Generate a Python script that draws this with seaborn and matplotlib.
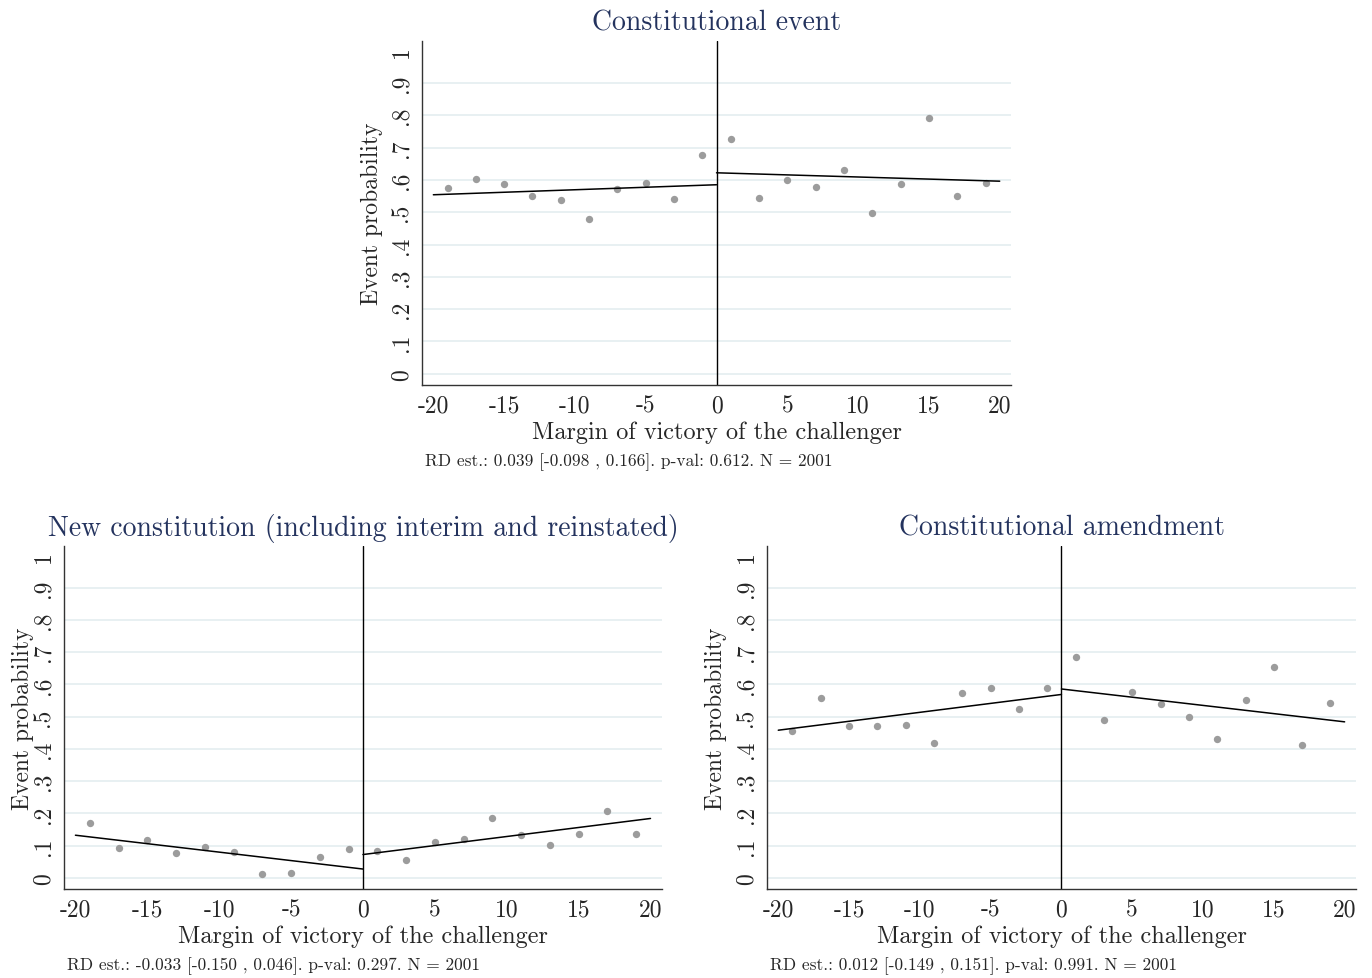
import matplotlib
matplotlib.use("Agg")
import matplotlib.pyplot as plt
import seaborn as sns

# bin centres of the margin of victory
bins = [-19, -17, -15, -13, -11, -9, -7, -5, -3, -1,
        1, 3, 5, 7, 9, 11, 13, 15, 17, 19]

# binned means
event_prob = [0.575, 0.603, 0.588, 0.549, 0.538, 0.478, 0.571, 0.590, 0.540, 0.678,
              0.728, 0.545, 0.599, 0.579, 0.630, 0.499, 0.586, 0.792, 0.551, 0.589]
newconst_prob = [0.169, 0.092, 0.117, 0.077, 0.094, 0.081, 0.011, 0.015, 0.065, 0.089,
                 0.083, 0.056, 0.111, 0.121, 0.184, 0.132, 0.103, 0.137, 0.206, 0.136]
amend_prob = [0.457, 0.557, 0.470, 0.470, 0.475, 0.419, 0.572, 0.589, 0.524, 0.588,
              0.686, 0.490, 0.576, 0.539, 0.499, 0.432, 0.551, 0.655, 0.412, 0.544]

# linear fits on each side of the cutoff
fit_left_x = [-20, 0]
fit_right_x = [0, 20]
event_fit_left = [0.554, 0.585]
event_fit_right = [0.622, 0.596]
newconst_fit_left = [0.132, 0.027]
newconst_fit_right = [0.072, 0.184]
amend_fit_left = [0.458, 0.569]
amend_fit_right = [0.586, 0.484]

titles = ["Constitutional event",
          "New constitution (including interim and reinstated)",
          "Constitutional amendment"]
notes = ["RD est.: 0.039 [-0.098 , 0.166]. p-val: 0.612. N = 2001",
         "RD est.: -0.033 [-0.150 , 0.046]. p-val: 0.297. N = 2001",
         "RD est.: 0.012 [-0.149 , 0.151]. p-val: 0.991. N = 2001"]

x_ticks = [-20, -15, -10, -5, 0, 5, 10, 15, 20]
x_ticklabels = ["-20", "-15", "-10", "-5", "0", "5", "10", "15", "20"]
y_ticks = [0, 0.1, 0.2, 0.3, 0.4, 0.5, 0.6, 0.7, 0.8, 0.9, 1]
y_ticklabels = ["0", ".1", ".2", ".3", ".4", ".5", ".6", ".7", ".8", ".9", "1"]

sns.set_style("white")
plt.rcParams["font.family"] = ["cmr10", "DejaVu Serif"]
plt.rcParams["axes.unicode_minus"] = False
plt.rcParams["axes.formatter.use_mathtext"] = True

fig = plt.figure(figsize=(13.72, 9.79), dpi=100)

panels = [
    ([0.3076, 0.6057, 0.4293, 0.3514], event_prob, event_fit_left, event_fit_right, -0.066),
    ([0.0466, 0.0909, 0.4359, 0.3504], newconst_prob, newconst_fit_left, newconst_fit_right, -0.05),
    ([0.5590, 0.0909, 0.4293, 0.3504], amend_prob, amend_fit_left, amend_fit_right, -0.068),
]

for i, (rect, probs, fl, fr, ylab_x) in enumerate(panels):
    ax = fig.add_axes(rect)

    ax.grid(axis="y", color="#e6eff1", lw=1.3)
    ax.set_axisbelow(True)
    ax.axvline(0, color="black", lw=1.0, zorder=2)

    sns.scatterplot(x=bins, y=probs, ax=ax, color="#9c9c9c", s=28,
                    linewidth=0, zorder=3)
    sns.lineplot(x=fit_left_x, y=fl, ax=ax, color="black", lw=1.1, zorder=4)
    sns.lineplot(x=fit_right_x, y=fr, ax=ax, color="black", lw=1.1, zorder=4)

    ax.set_xlim(-20.8, 20.8)
    ax.set_ylim(-0.035, 1.03)
    ax.set_xticks(x_ticks)
    ax.set_xticklabels(x_ticklabels)
    ax.set_yticks(y_ticks)
    ax.set_yticklabels(y_ticklabels)
    # no gridline at the top tick
    ax.yaxis.get_gridlines()[-1].set_visible(False)

    ax.tick_params(axis="both", direction="out", length=4.5, width=0.9,
                   color="#333333", labelsize=17, pad=2)
    ax.tick_params(axis="y", labelrotation=90)
    for lab in ax.get_yticklabels():
        lab.set_va("center")

    for side in ["top", "right"]:
        ax.spines[side].set_visible(False)
    for side in ["left", "bottom"]:
        ax.spines[side].set_color("#333333")
        ax.spines[side].set_linewidth(1.0)

    ax.set_xlabel("Margin of victory of the challenger", fontsize=17.5, labelpad=3)
    ax.set_ylabel("Event probability", fontsize=17)
    ax.yaxis.set_label_coords(ylab_x, 0.5)
    ax.set_title(titles[i], fontsize=20, color="#24335e", pad=8)

    ax.text(0.005, -0.222, notes[i], transform=ax.transAxes, fontsize=12.5,
            ha="left", va="center")

fig.savefig("out.png", dpi=100)
